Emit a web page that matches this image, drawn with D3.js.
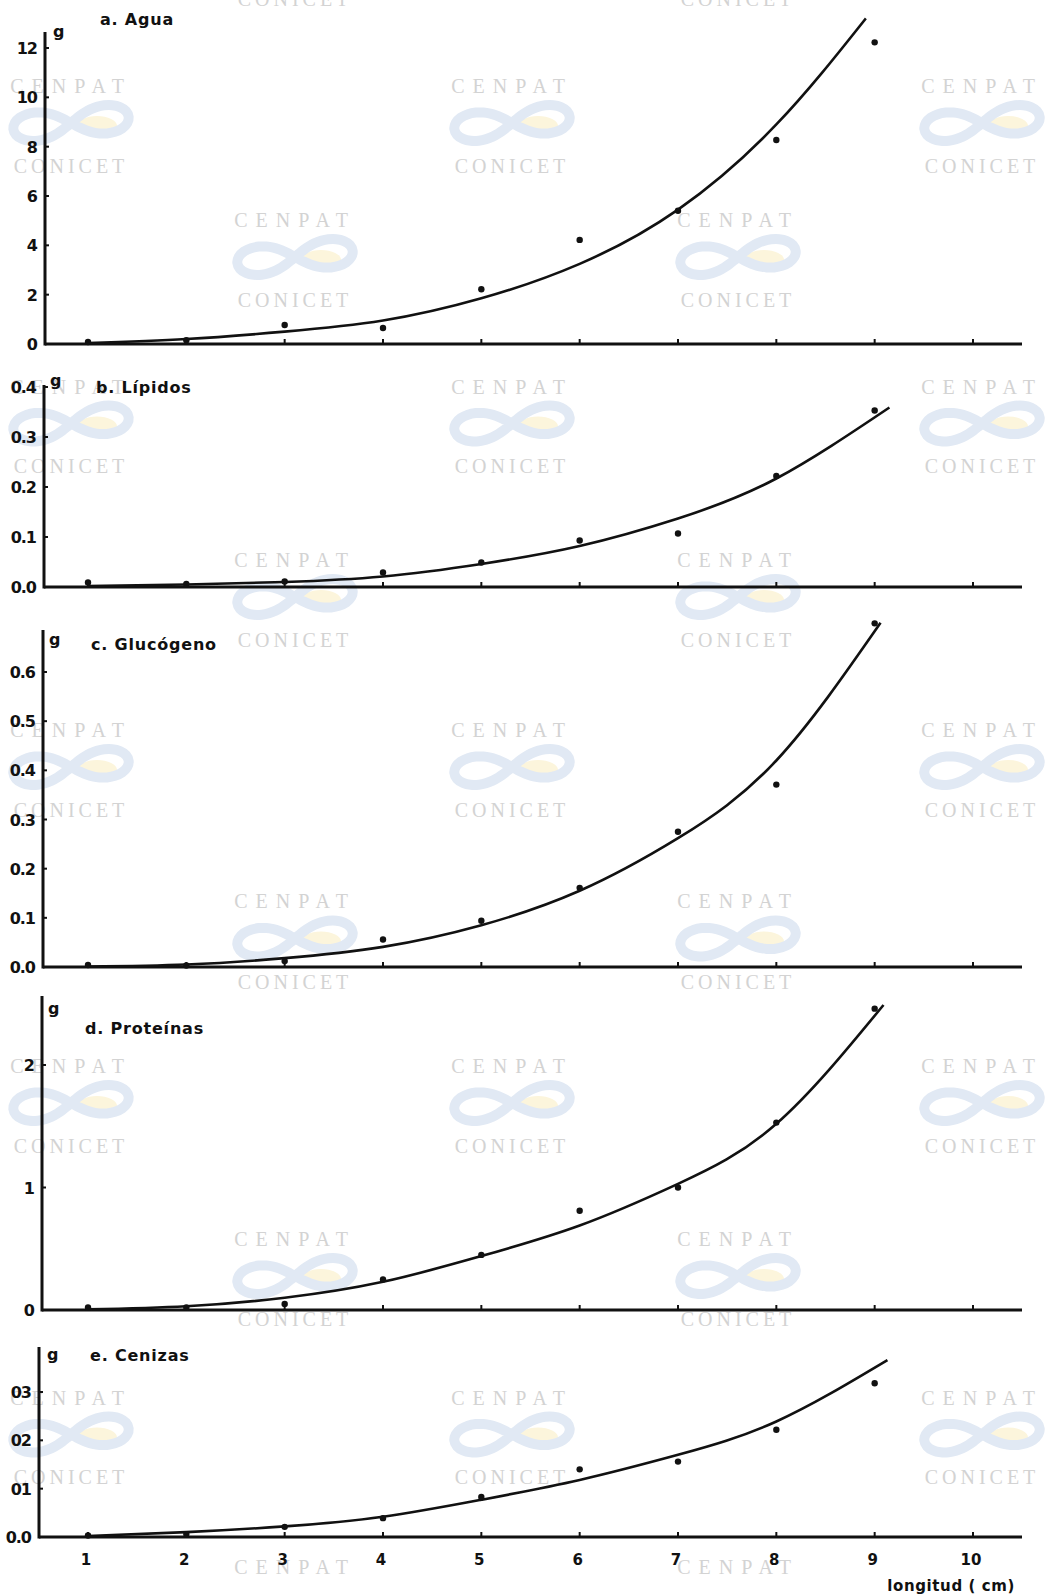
<!DOCTYPE html>
<html>
<head>
<meta charset="utf-8">
<title>Composicion bioquimica vs longitud</title>
<script src="https://d3js.org/d3.v7.min.js"></script>
<style>
  body { margin: 0; background: #fff; }
  svg { display: block; }
  .lbl { font-family: "DejaVu Sans", sans-serif; font-weight: bold; fill: #111; }
  .wm { font-family: "Liberation Serif", "DejaVu Serif", serif; fill: #d3d3d3; }
</style>
</head>
<body>
<div id="container"></div>
<script>
//------------------------1. DATA-------------------------//
// longitud (cm) of the measured points
const lengths = [1, 2, 3, 4, 5, 6, 7, 8, 9];

// measured values (g)
const agua      = [0.08, 0.15, 0.77, 0.65, 2.22, 4.22, 5.40, 8.27, 12.23];
const lipidos   = [0.009, 0.006, 0.011, 0.029, 0.049, 0.093, 0.107, 0.222, 0.353];
const glucogeno = [0.004, 0.003, 0.012, 0.056, 0.094, 0.161, 0.275, 0.371, 0.699];
const proteinas = [0.02, 0.02, 0.05, 0.25, 0.45, 0.81, 1.00, 1.53, 2.46];
const cenizas   = [0.003, 0.006, 0.021, 0.039, 0.083, 0.140, 0.156, 0.222, 0.318];

// fitted curves
const aguaFitX = [1, 2, 3, 4, 5, 6, 7, 8, 8.91];
const aguaFit  = [0.04, 0.2, 0.5, 0.95, 1.85, 3.25, 5.45, 8.9, 13.2];
const lipFitX  = [1, 2, 3, 4, 5, 6, 7, 8, 9.15];
const lipFit   = [0.002, 0.005, 0.01, 0.021, 0.046, 0.082, 0.137, 0.217, 0.359];
const glucFitX = [1, 2, 3, 4, 5, 6, 7, 8, 9.06];
const glucFit  = [0.001, 0.005, 0.018, 0.041, 0.085, 0.155, 0.262, 0.42, 0.70];
const protFitX = [1, 2, 3, 4, 5, 6, 7, 8, 9.09];
const protFit  = [0.005, 0.03, 0.1, 0.23, 0.44, 0.69, 1.03, 1.52, 2.49];
const cenFitX  = [1, 2, 3, 4, 5, 6, 7, 8, 9.13];
const cenFit   = [0.002, 0.01, 0.022, 0.042, 0.077, 0.118, 0.17, 0.239, 0.366];

// titles and tick labels
const titles = ["a.  Agua", "b. Lípidos", "c. Glucógeno", "d. Proteínas", "e. Cenizas"];
const aguaTicks = [0, 2, 4, 6, 8, 10, 12];
const aguaTickLabels = ["0", "2", "4", "6", "8", "10", "12"];
const lipTicks = [0, 0.1, 0.2, 0.3, 0.4];
const lipTickLabels = ["0.0", "0.1", "0.2", "0.3", "0.4"];
const glucTicks = [0, 0.1, 0.2, 0.3, 0.4, 0.5, 0.6];
const glucTickLabels = ["0.0", "0.1", "0.2", "0.3", "0.4", "0.5", "0.6"];
const protTicks = [0, 1, 2];
const protTickLabels = ["0", "1", "2"];
const cenTicks = [0, 0.1, 0.2, 0.3];
const cenTickLabels = ["0.0", "01", "02", "03"];
const xTicks = [1, 2, 3, 4, 5, 6, 7, 8, 9, 10];
const xTitle = "longitud  ( cm)";

//------------------------2. LAYOUT-------------------------//
const width = 1050;
const height = 1596;
const xRight = 1022;

// one entry per panel: pixel rows of the value axis
const panels = [
  { title: titles[0], pts: agua, fx: aguaFitX, fy: aguaFit, ticks: aguaTicks, tl: aguaTickLabels,
    dom: [0, 12], rng: [344, 48], top: 32, ax: 45, titleX: 100, titleY: 25, gX: 53, gY: 37 },
  { title: titles[1], pts: lipidos, fx: lipFitX, fy: lipFit, ticks: lipTicks, tl: lipTickLabels,
    dom: [0, 0.4], rng: [587, 387], top: 385, ax: 44, titleX: 96, titleY: 393, gX: 50, gY: 386 },
  { title: titles[2], pts: glucogeno, fx: glucFitX, fy: glucFit, ticks: glucTicks, tl: glucTickLabels,
    dom: [0, 0.6], rng: [967, 672], top: 630, ax: 43, titleX: 91, titleY: 650, gX: 49, gY: 645 },
  { title: titles[3], pts: proteinas, fx: protFitX, fy: protFit, ticks: protTicks, tl: protTickLabels,
    dom: [0, 2], rng: [1310, 1065], top: 996, ax: 42, titleX: 85, titleY: 1034, gX: 48, gY: 1014 },
  { title: titles[4], pts: cenizas, fx: cenFitX, fy: cenFit, ticks: cenTicks, tl: cenTickLabels,
    dom: [0, 0.3], rng: [1537, 1392], top: 1347, ax: 39, titleX: 90, titleY: 1361, gX: 47, gY: 1360 }
];

const xScale = d3.scaleLinear().domain([1, 10]).range([88, 973]);

const svg = d3.select("#container").append("svg")
  .attr("width", width)
  .attr("height", height)
  .attr("viewBox", `0 0 ${width} ${height}`);

svg.append("rect").attr("width", width).attr("height", height).attr("fill", "#fff");

//------------------------3. WATERMARK-------------------------//
const wmColsA = [71, 512, 982];
const wmColsB = [295, 738];
const wmRowsA = [[86, 166], [387, 466], [730, 810], [1066, 1146], [1398, 1477]];
const wmRowsB = [[220, 300], [560, 640], [901, 982], [1239, 1319]];

const wm = svg.append("g").attr("class", "watermark");
const lemni = d3.line().curve(d3.curveCardinalClosed);
const lemniPts = d3.range(0, 40).map(i => {
  const t = i / 40 * 2 * Math.PI;
  const s = Math.sin(t), c = Math.cos(t);
  return [58 * c / (1 + s * s), 40 * s * c / (1 + s * s)];
});

function stamp(cx, r, logo) {
  const g = wm.append("g");
  const mid = (r[0] + r[1]) / 2 - 3;
  if (logo) {
    g.append("ellipse").attr("cx", cx + 26).attr("cy", mid + 3)
      .attr("rx", 20).attr("ry", 10).attr("fill", "#fcf5dc");
    g.append("path").attr("d", lemni(lemniPts))
      .attr("transform", `translate(${cx},${mid}) rotate(-6)`)
      .attr("fill", "none").attr("stroke", "#e1e9f4").attr("stroke-width", 10);
  }
  if (r[0] > 0) {
    g.append("text").attr("class", "wm").attr("x", cx).attr("y", r[0] + 7)
      .attr("text-anchor", "middle").attr("font-size", 20).attr("letter-spacing", 8)
      .text("CENPAT");
  }
  if (r[1] < height) {
    g.append("text").attr("class", "wm").attr("x", cx).attr("y", r[1] + 7)
      .attr("text-anchor", "middle").attr("font-size", 20).attr("letter-spacing", 4)
      .text("CONICET");
  }
}
wmRowsA.forEach(r => wmColsA.forEach(cx => stamp(cx, r, true)));
wmRowsB.forEach(r => wmColsB.forEach(cx => stamp(cx, r, true)));
// partial stamps at top and bottom edges
wmColsB.forEach(cx => stamp(cx, [-84, -1], false));
wmColsB.forEach(cx => stamp(cx, [1567, 1700], true));

//------------------------4. PANELS-------------------------//
const fitLine = d3.line().curve(d3.curveNatural);

panels.forEach((p, k) => {
  const yScale = d3.scaleLinear().domain(p.dom).range(p.rng);
  const g = svg.append("g").attr("class", "panel");
  const y0 = yScale(0);

  // axes lines
  g.append("line").attr("x1", p.ax).attr("x2", p.ax).attr("y1", p.top).attr("y2", y0 + 1.5)
    .attr("stroke", "#111").attr("stroke-width", 3);
  g.append("line").attr("x1", p.ax).attr("x2", xRight).attr("y1", y0).attr("y2", y0)
    .attr("stroke", "#111").attr("stroke-width", 3);

  // x ticks (pointing up)
  g.selectAll(".xt").data(xTicks).enter().append("line")
    .attr("x1", d => xScale(d)).attr("x2", d => xScale(d))
    .attr("y1", y0).attr("y2", y0 - 5)
    .attr("stroke", "#111").attr("stroke-width", 2);

  // y ticks (pointing right) and labels
  g.selectAll(".yt").data(p.ticks).enter().append("line")
    .attr("x1", p.ax).attr("x2", p.ax + 4)
    .attr("y1", d => yScale(d)).attr("y2", d => yScale(d))
    .attr("stroke", "#111").attr("stroke-width", 2);
  g.selectAll(".yl").data(p.ticks).enter().append("text")
    .attr("class", "lbl")
    .attr("x", p.ax - 8).attr("y", d => yScale(d) + 6)
    .attr("text-anchor", "end").attr("font-size", 16).attr("letter-spacing", -1)
    .text((d, i) => p.tl[i]);

  // unit and title
  g.append("text").attr("class", "lbl").attr("x", p.gX).attr("y", p.gY)
    .attr("font-size", 16).text("g");
  g.append("text").attr("class", "lbl").attr("x", p.titleX).attr("y", p.titleY)
    .attr("font-size", 16).attr("letter-spacing", 0.8).text(p.title);

  // fitted curve
  g.append("path")
    .attr("d", fitLine(p.fx.map((x, i) => [xScale(x), yScale(p.fy[i])])))
    .attr("fill", "none").attr("stroke", "#111").attr("stroke-width", 2.6);

  // measured points
  g.selectAll(".pt").data(lengths).enter().append("circle")
    .attr("cx", d => xScale(d))
    .attr("cy", (d, i) => yScale(p.pts[i]))
    .attr("r", 3.2).attr("fill", "#111");
});

//------------------------5. X LABELS (bottom panel)-------------------------//
svg.selectAll(".xl").data(xTicks).enter().append("text")
  .attr("class", "lbl")
  .attr("x", d => xScale(d) - 2).attr("y", 1565)
  .attr("text-anchor", "middle").attr("font-size", 15)
  .text(d => d);

svg.append("text").attr("class", "lbl")
  .attr("x", 1015).attr("y", 1591)
  .attr("text-anchor", "end").attr("font-size", 15).attr("letter-spacing", 0.6)
  .text(xTitle);
</script>
</body>
</html>
